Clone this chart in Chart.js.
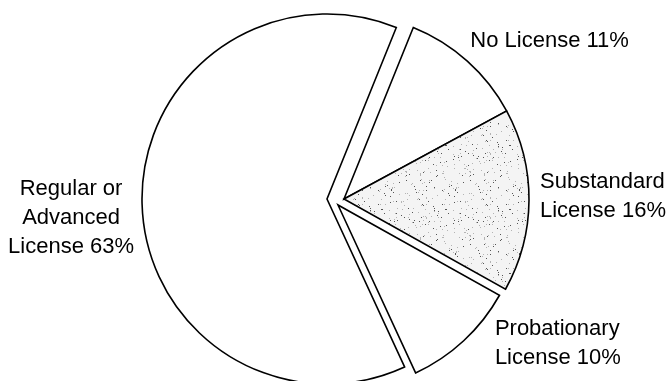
<!DOCTYPE html>
<html>
<head>
<meta charset="utf-8">
<script src="https://cdn.jsdelivr.net/npm/chart.js@4.4.1/dist/chart.umd.min.js"></script>
<style>
  html, body { margin: 0; padding: 0; background: #fff; }
  #wrap { width: 667px; height: 381px; }
</style>
</head>
<body>
<div id="wrap"><canvas id="licensePie"></canvas></div>
<script>
// license status of drivers, percent
const categories = ['No License', 'Substandard License', 'Probationary License', 'Regular or Advanced License'];
const shares = [11, 16, 10, 63];
const labelNames = [
    ['No License'],
    ['Substandard', 'License'],
    ['Probationary', 'License'],
    ['Regular or', 'Advanced', 'License']
];

// pulled-apart wedges: no license + substandard move as one piece
const sliceShift = [[8, -1], [8, -1], [2, 5], [-9, -1]];
const labelNudge = [[-7, -9], [-4, -4], [21, -8], [7, 14]];

function labelText(i) {
    const lines = labelNames[i].slice();
    lines[lines.length - 1] += ' ' + shares[i] + '%';
    return lines;
}

// light speckled fill for the substandard wedge
function stipple() {
    const c = document.createElement('canvas');
    c.width = c.height = 64;
    const g = c.getContext('2d');
    g.fillStyle = '#f4f4f4';
    g.fillRect(0, 0, 64, 64);
    let s = 7;
    const next = () => (s = (s * 16807) % 2147483647);
    for (let k = 0; k < 170; k++) {
        const x = next() % 64;
        const y = next() % 64;
        g.fillStyle = next() % 3 ? '#b4b4b4' : '#555';
        g.fillRect(x, y, 1, 1);
    }
    return g.createPattern(c, 'repeat');
}

const shiftSlices = {
    id: 'shiftSlices',
    afterDatasetsUpdate(chart) {
        chart.getDatasetMeta(0).data.forEach((arc, i) => {
            arc.x += sliceShift[i][0];
            arc.y += sliceShift[i][1];
        });
    }
};

const sliceLabels = {
    id: 'sliceLabels',
    afterDatasetsDraw(chart) {
        const ctx = chart.ctx;
        ctx.save();
        ctx.font = '22px "Liberation Sans", Arial, sans-serif';
        ctx.fillStyle = '#000';
        ctx.textBaseline = 'middle';
        chart.getDatasetMeta(0).data.forEach((arc, i) => {
            const p = arc.getProps(['x', 'y', 'startAngle', 'endAngle', 'outerRadius'], true);
            const mid = (p.startAngle + p.endAngle) / 2;
            const ax = p.x + Math.cos(mid) * (p.outerRadius + 15) + labelNudge[i][0];
            const ay = p.y + Math.sin(mid) * (p.outerRadius + 15) + labelNudge[i][1];
            const lines = labelText(i);
            const lh = 29;
            const top = ay - (lines.length - 1) * lh / 2;
            const w = Math.max(...lines.map(l => ctx.measureText(l).width));
            lines.forEach((line, k) => {
                if (Math.cos(mid) < 0) {
                    ctx.textAlign = 'center';
                    ctx.fillText(line, ax - w / 2, top + k * lh);
                } else {
                    ctx.textAlign = 'left';
                    ctx.fillText(line, ax, top + k * lh);
                }
            });
        });
        ctx.restore();
    }
};

const ctx = document.getElementById('licensePie').getContext('2d');

new Chart(ctx, {
    type: 'pie',
    data: {
        labels: categories,
        datasets: [{
            data: shares,
            backgroundColor: ['#ffffff', stipple(), '#ffffff', '#ffffff'],
            borderColor: '#000',
            borderWidth: 1.6,
            borderJoinStyle: 'miter',
            radius: 185
        }]
    },
    options: {
        responsive: true,
        maintainAspectRatio: false,
        animation: false,
        rotation: 22,
        layout: {
            padding: { left: 5, right: 0, top: 19, bottom: 0 }
        },
        plugins: {
            legend: { display: false },
            tooltip: { enabled: false }
        }
    },
    plugins: [shiftSlices, sliceLabels]
});
</script>
</body>
</html>
